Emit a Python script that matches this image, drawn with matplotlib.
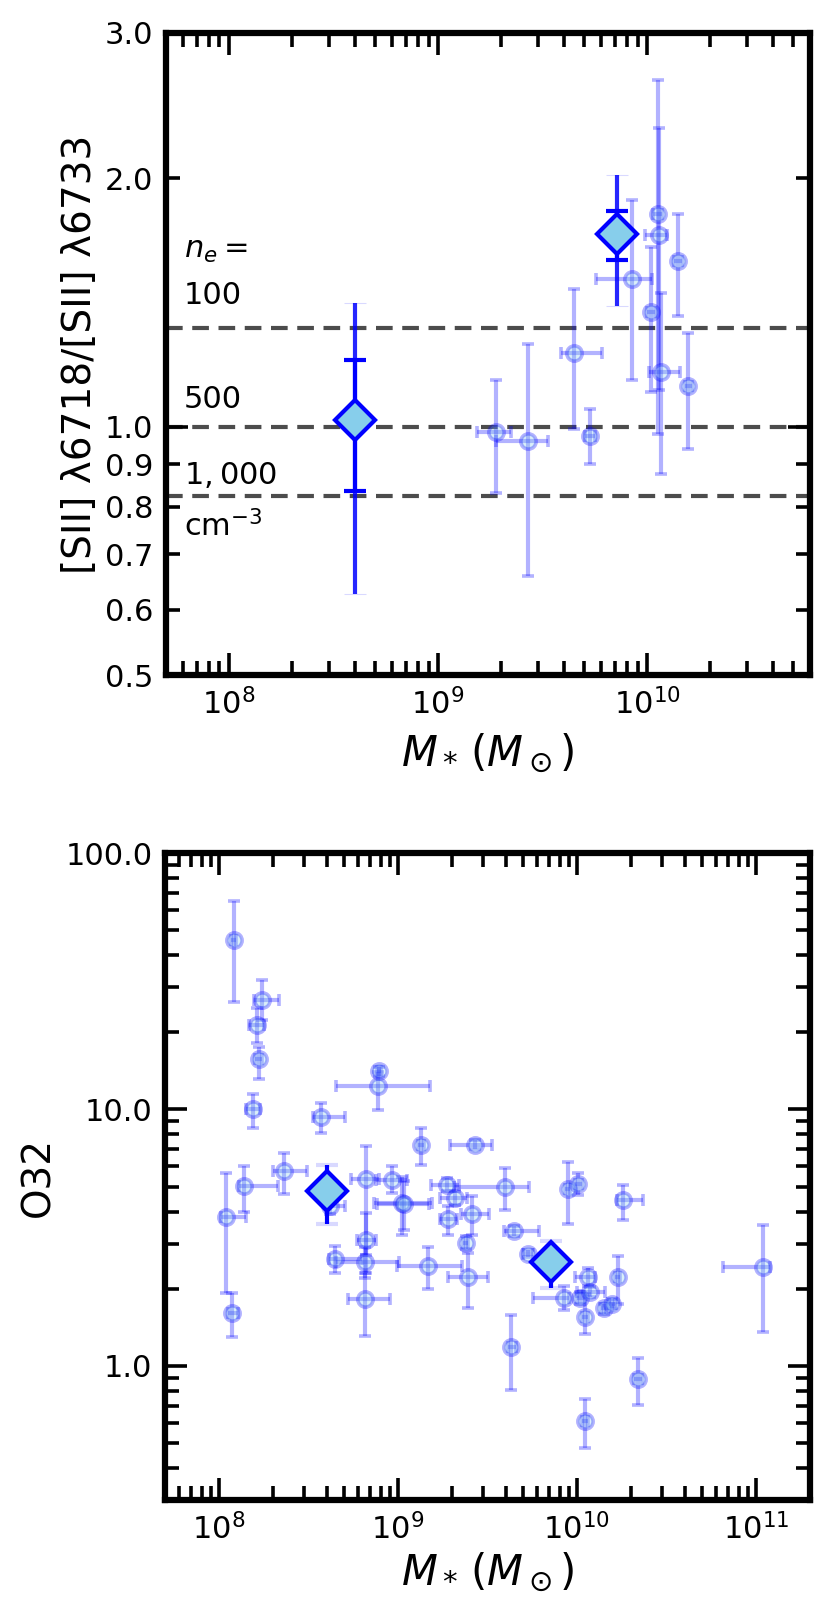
import numpy as np
import matplotlib
matplotlib.use('Agg')
import matplotlib.pyplot as plt
from matplotlib.ticker import LogLocator, FormatStrFormatter, NullFormatter

plt.rcParams['font.family'] = ['DejaVu Sans']
plt.rcParams['mathtext.fontset'] = 'dejavusans'

# ---- top panel: [SII] ratio vs stellar mass ----
sii_mass = [1.90e9, 2.70e9, 4.47e9, 5.32e9, 8.45e9, 1.045e10, 1.12e10, 1.14e10, 1.16e10, 1.40e10, 1.57e10]
sii_ratio = [0.984, 0.960, 1.228, 0.975, 1.510, 1.376, 1.810, 1.706, 1.165, 1.586, 1.121]
sii_mass_lo = [1.54e9, 1.90e9, 3.87e9, 5.05e9, 5.66e9, 1.00e10, 1.07e10, 9.73e9, 1.02e10, 1.34e10, 1.51e10]
sii_mass_hi = [2.22e9, 3.36e9, 6.10e9, 5.60e9, 1.05e10, 1.09e10, 1.18e10, 1.24e10, 1.44e10, 1.46e10, 1.64e10]
sii_ratio_lo = [0.83, 0.66, 0.994, 0.90, 1.14, 1.10, 0.98, 1.107, 0.875, 1.363, 0.94]
sii_ratio_hi = [1.14, 1.26, 1.47, 1.05, 1.88, 1.65, 2.63, 2.30, 1.45, 1.81, 1.30]

# stacked measurements (diamonds)
stack_mass = [4.0e8, 7.2e9]
stack_ratio = [1.02, 1.71]
stack_ratio_lo_in = [0.836, 1.594]
stack_ratio_hi_in = [1.206, 1.824]
stack_ratio_lo_out = [0.626, 1.402]
stack_ratio_hi_out = [1.413, 2.017]

# density lines
ne_ratio = [1.315, 1.0, 0.823]
ne_labels = ['100', '500', '$1,000$']
ne_label_y = [1.41, 1.054, 0.853]

# ---- bottom panel: O32 vs stellar mass ----
o32_mass = [1.21e8, 1.75e8, 1.63e8, 1.67e8, 1.56e8, 7.85e8, 7.78e8, 3.73e8, 1.35e9, 2.30e8,
            1.39e8, 1.10e8, 6.62e8, 9.30e8, 1.06e9, 1.08e9, 4.17e8, 6.62e8, 4.47e8, 6.56e8,
            1.48e9, 6.55e8, 1.19e8, 2.69e9, 1.89e9, 3.99e9, 2.08e9, 2.58e9, 1.90e9, 2.39e9,
            4.43e9, 8.90e9, 1.02e10, 1.82e10, 2.46e9, 5.35e9, 1.15e10, 1.69e10, 8.43e9, 1.045e10,
            1.18e10, 1.11e10, 1.41e10, 1.58e10, 1.09e11, 4.31e9, 2.19e10, 1.11e10]
o32 = [45.6, 26.8, 21.3, 15.7, 10.0, 14.1, 12.4, 9.35, 7.29, 5.74,
       5.01, 3.80, 5.38, 5.33, 4.32, 4.28, 4.22, 3.09, 2.60, 2.54,
       2.46, 1.82, 1.61, 7.29, 5.09, 4.99, 4.52, 3.92, 3.74, 3.02,
       3.35, 4.90, 5.14, 4.42, 2.22, 2.74, 2.22, 2.22, 1.84, 1.84,
       1.94, 1.555, 1.675, 1.747, 2.44, 1.19, 0.886, 0.61]
o32_mass_lo = [1.17e8, 1.58e8, 1.48e8, 1.60e8, 1.42e8, 7.60e8, 4.51e8, 3.34e8, 1.30e9, 2.00e8,
               1.30e8, 1.03e8, 5.47e8, 7.53e8, 7.37e8, 7.60e8, 4.00e8, 5.90e8, 4.14e8, 4.50e8,
               9.95e8, 5.28e8, 1.12e8, 1.95e9, 1.54e9, 2.06e9, 1.73e9, 2.24e9, 1.72e9, 2.32e9,
               3.91e9, 8.60e9, 9.70e9, 1.67e10, 1.91e9, 5.00e9, 9.80e9, 1.63e10, 5.66e9, 1.00e10,
               1.00e10, 1.07e10, 1.36e10, 1.52e10, 6.56e10, 4.10e9, 2.08e10, 1.07e10]
o32_mass_hi = [1.25e8, 2.18e8, 1.79e8, 1.74e8, 1.69e8, 8.10e8, 1.52e9, 5.08e8, 1.40e9, 3.10e8,
               2.13e8, 1.42e8, 7.85e8, 1.13e9, 1.55e9, 1.50e9, 5.06e8, 7.50e8, 6.34e8, 1.02e9,
               2.29e9, 9.06e8, 1.28e8, 3.36e9, 2.19e9, 5.40e9, 2.42e9, 3.22e9, 2.15e9, 2.46e9,
               6.13e9, 9.20e9, 1.07e10, 2.35e10, 3.20e9, 5.70e9, 1.26e10, 1.75e10, 9.00e9, 1.09e10,
               1.44e10, 1.15e10, 1.46e10, 1.64e10, 1.20e11, 4.55e9, 2.30e10, 1.15e10]
o32_lo = [26.3, 22.4, 18.2, 13.1, 8.47, 13.5, 9.92, 8.1, 6.1, 4.7,
          3.97, 1.93, 2.7, 4.74, 3.25, 3.4, 3.9, 2.3, 2.31, 2.2,
          1.99, 1.31, 1.30, 7.0, 4.8, 4.07, 4.25, 3.25, 3.25, 2.85,
          3.2, 3.56, 4.66, 3.72, 1.675, 2.65, 2.05, 1.736, 1.645, 1.75,
          1.85, 1.327, 1.6, 1.68, 1.35, 0.805, 0.703, 0.48]
o32_hi = [65.3, 32.0, 24.8, 17.6, 11.5, 14.7, 14.0, 10.6, 8.47, 6.77,
          6.0, 5.66, 7.18, 6.0, 5.46, 5.25, 4.5, 3.96, 2.93, 2.9,
          2.91, 2.31, 1.92, 7.6, 5.4, 5.92, 4.8, 4.59, 4.19, 3.2,
          3.5, 6.22, 5.66, 5.09, 2.76, 2.83, 2.41, 2.69, 2.05, 1.94,
          2.03, 1.90, 1.75, 1.82, 3.53, 1.58, 1.07, 0.74]

stack_o32 = [4.83, 2.55]
stack_o32_lo = [3.56, 2.02]
stack_o32_hi = [6.05, 3.06]


def asym(val, lo, hi):
    val, lo, hi = np.asarray(val), np.asarray(lo), np.asarray(hi)
    return [val - lo, hi - val]


def style_axis(ax):
    for sp in ax.spines.values():
        sp.set_linewidth(4.5)
    ax.tick_params(which='both', direction='in', top=True, right=True,
                   labelsize=22, pad=9)
    ax.tick_params(which='major', length=16, width=2.6)
    ax.tick_params(which='minor', length=10, width=2.6)


def small_points(ax, x, y, xlo, xhi, ylo, yhi):
    ax.errorbar(x, y, xerr=asym(x, xlo, xhi), yerr=asym(y, ylo, yhi),
                fmt='o', color='blue', mfc='skyblue', mec='blue', ms=11, mew=2.6,
                elinewidth=3, capsize=4.5, capthick=2, alpha=0.3, zorder=3)


fig = plt.figure(figsize=(8.32, 16.23), dpi=100)
ax1 = fig.add_axes([0.1995, 0.5841, 0.774, 0.3956])
ax2 = fig.add_axes([0.1983, 0.0758, 0.775, 0.3986])

# top panel
for r in ne_ratio:
    ax1.axhline(r, color='k', alpha=0.7, lw=3, ls='--', dashes=(4.0, 2.3), zorder=1)
small_points(ax1, sii_mass, sii_ratio, sii_mass_lo, sii_mass_hi, sii_ratio_lo, sii_ratio_hi)
_, caps, _ = ax1.errorbar(stack_mass, stack_ratio,
                          yerr=asym(stack_ratio, stack_ratio_lo_out, stack_ratio_hi_out),
                          fmt='none', ecolor='blue', elinewidth=3, capsize=8, capthick=0.8,
                          alpha=0.85, zorder=4)
for c in caps:
    c.set_alpha(0.15)
ax1.errorbar(stack_mass, stack_ratio,
             yerr=asym(stack_ratio, stack_ratio_lo_in, stack_ratio_hi_in),
             fmt='D', color='blue', mfc='skyblue', mec='blue', ms=20, mew=3,
             elinewidth=3, capsize=8, capthick=2.4, zorder=5)

ax1.text(6.1e7, 1.60, '$n_e=$', fontsize=22)
for lab, ly in zip(ne_labels, ne_label_y):
    ax1.text(6.1e7, ly, lab, fontsize=22)
ax1.text(6.1e7, 0.736, 'cm$^{-3}$', fontsize=22)

ax1.set_xscale('log')
ax1.set_yscale('log')
ax1.set_xlim(5e7, 6e10)
ax1.set_ylim(0.5, 3.0)
ax1.yaxis.set_major_locator(LogLocator(base=10, subs=(1.0,)))
ax1.yaxis.set_minor_locator(LogLocator(base=10, subs=np.arange(2, 10)))
ax1.yaxis.set_major_formatter(FormatStrFormatter('%.1f'))
ax1.yaxis.set_minor_formatter(FormatStrFormatter('%.1f'))
ax1.set_xlabel(r'$M_*\,(M_\odot)$', fontsize=30, labelpad=8)
ax1.set_ylabel('[SII] λ6718/[SII] λ6733', fontsize=28)
style_axis(ax1)

# bottom panel
small_points(ax2, o32_mass, o32, o32_mass_lo, o32_mass_hi, o32_lo, o32_hi)
_, caps, _ = ax2.errorbar(stack_mass, stack_o32,
                          yerr=asym(stack_o32, stack_o32_lo, stack_o32_hi),
                          fmt='D', color='blue', mfc='skyblue', mec='blue', ms=20, mew=3,
                          elinewidth=3, capsize=8, capthick=0.8, zorder=5)
for c in caps:
    c.set_alpha(0.15)

ax2.set_xscale('log')
ax2.set_yscale('log')
ax2.set_xlim(5e7, 2e11)
ax2.set_ylim(0.3, 100)
ax2.yaxis.set_major_locator(LogLocator(base=10, subs=(1.0,)))
ax2.yaxis.set_minor_locator(LogLocator(base=10, subs=np.arange(2, 10)))
ax2.yaxis.set_major_formatter(FormatStrFormatter('%.1f'))
ax2.yaxis.set_minor_formatter(NullFormatter())
ax2.set_xlabel(r'$M_*\,(M_\odot)$', fontsize=30)
ax2.set_ylabel('O32', fontsize=28, labelpad=6)
style_axis(ax2)

fig.savefig('out.png', dpi=100)
